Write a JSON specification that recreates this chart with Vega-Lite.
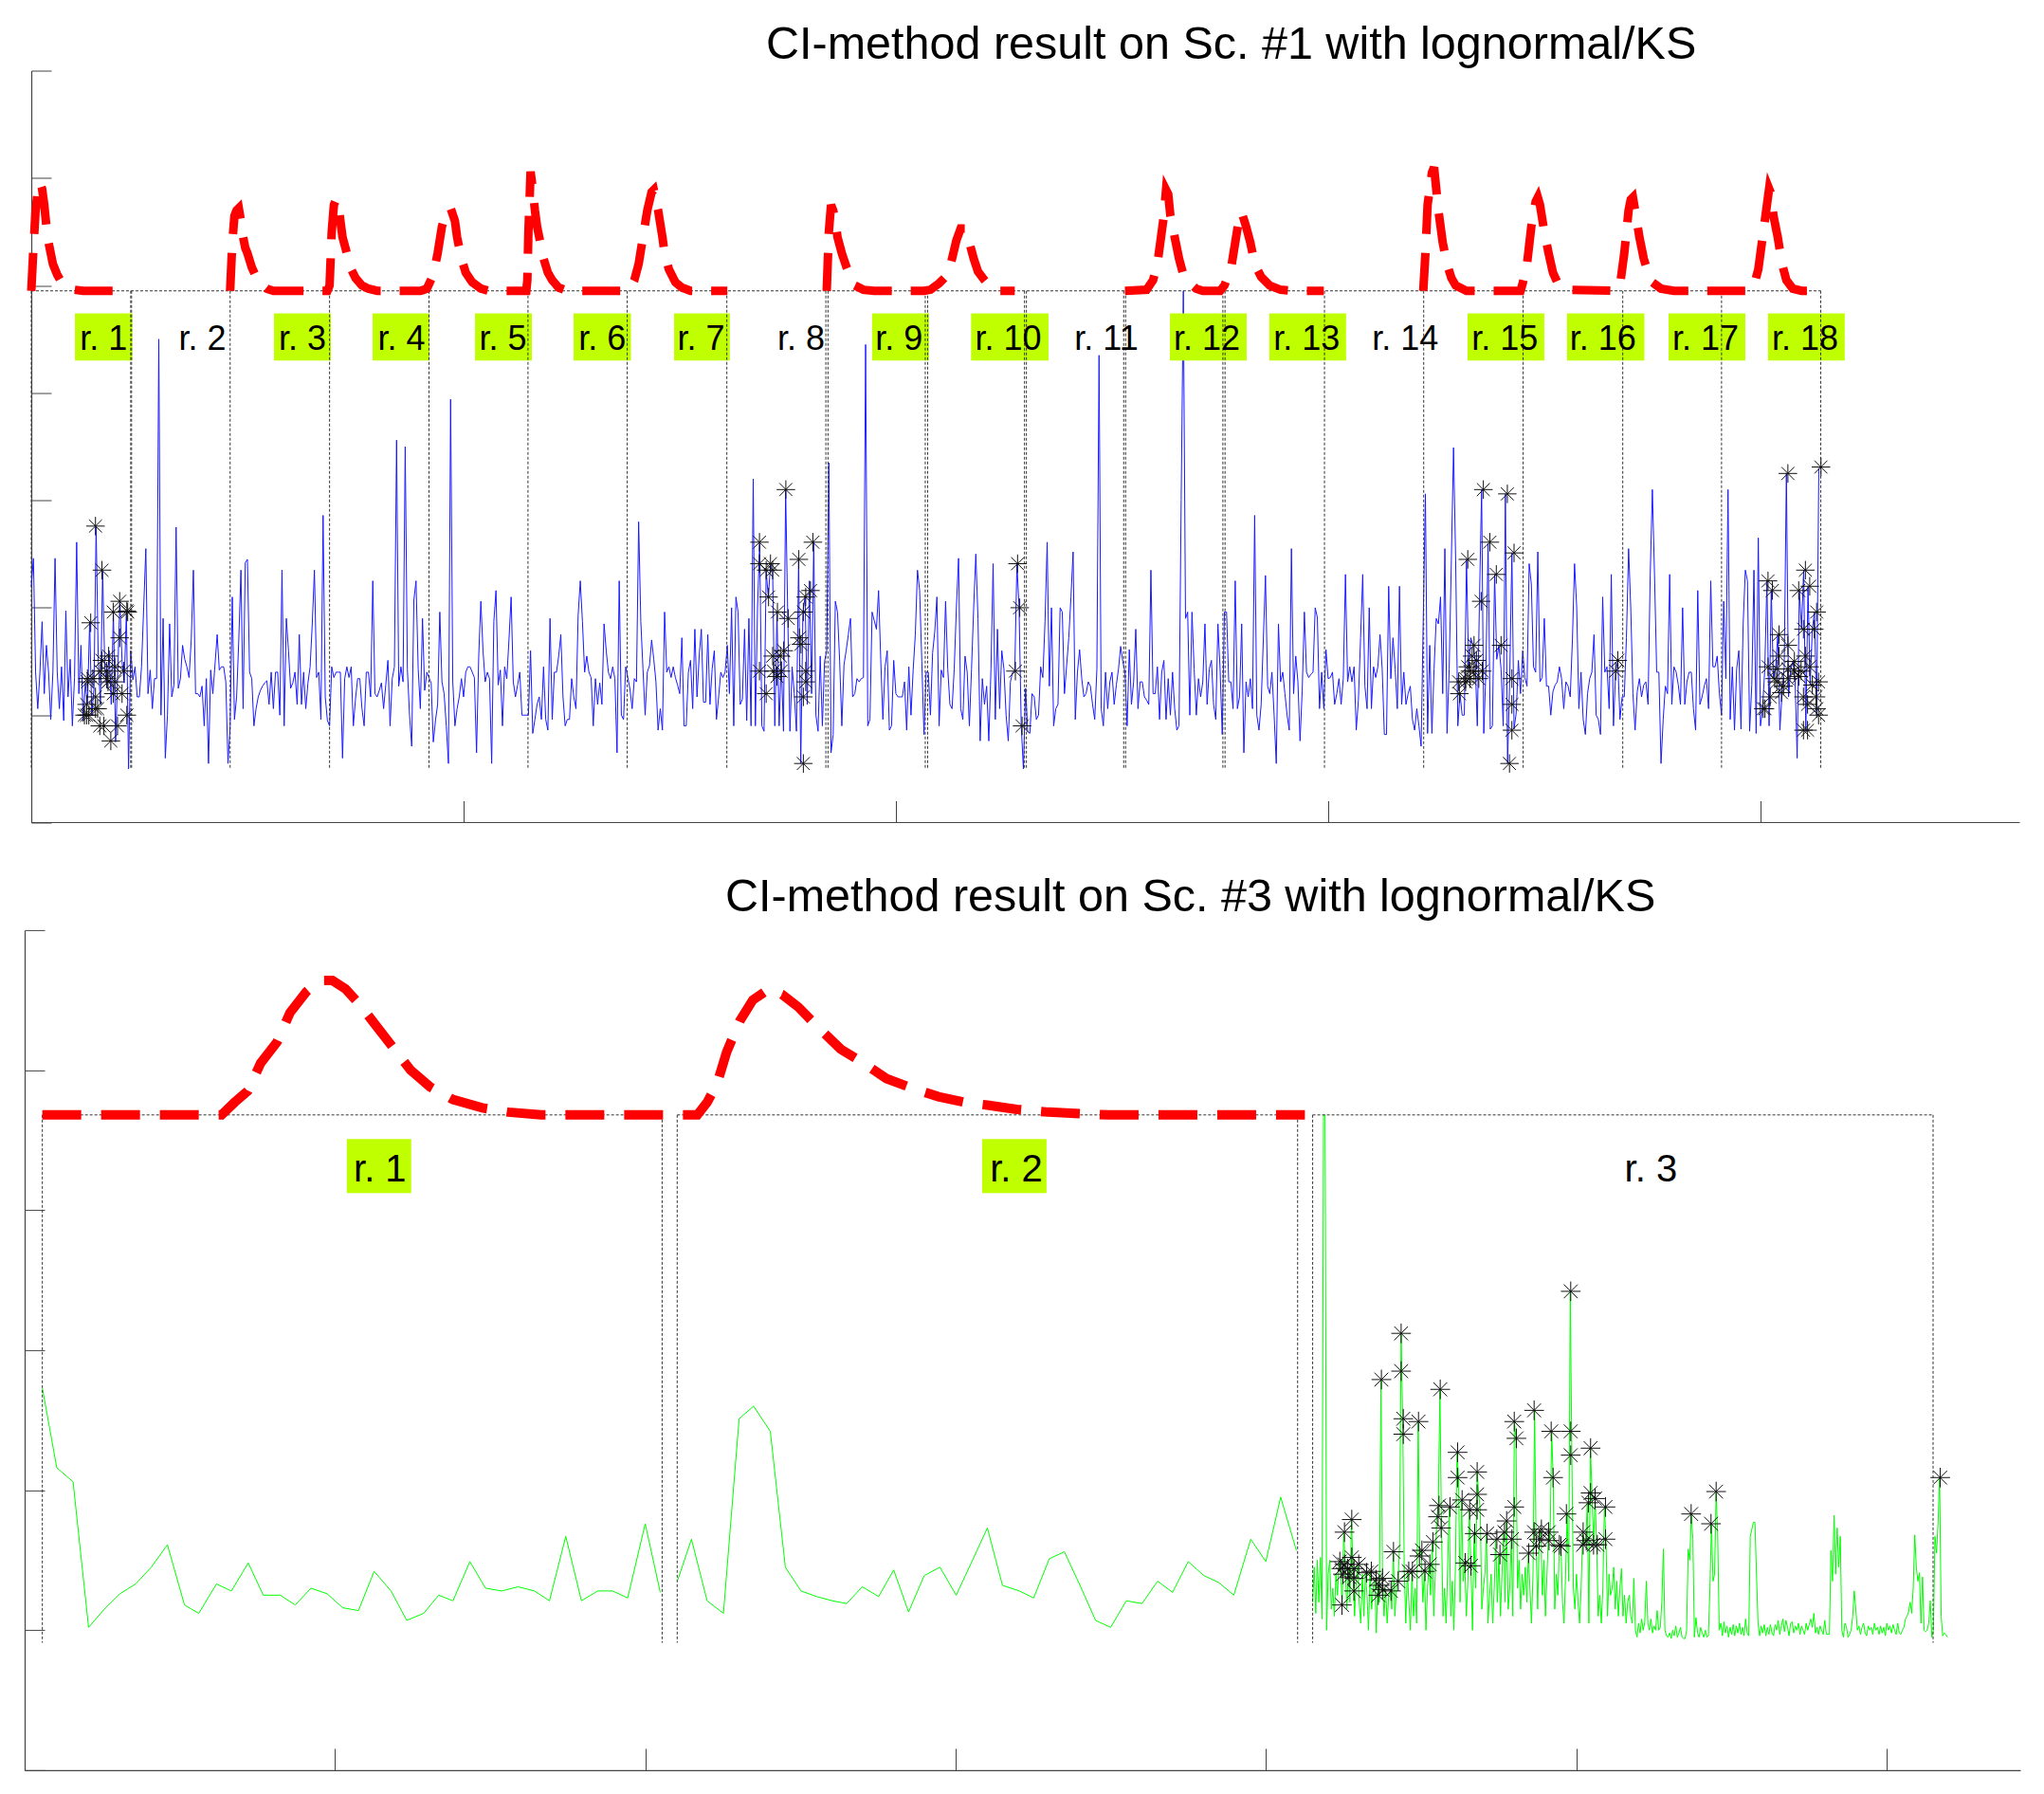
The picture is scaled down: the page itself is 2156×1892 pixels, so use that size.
{
  "$schema": "https://vega.github.io/schema/vega-lite/v6.json",
  "background": "white",
  "padding": {"left": 15, "top": 22.5, "right": 0, "bottom": 0},
  "config": {
    "view": {"stroke": null},
    "font": "Liberation Sans",
    "axis": {"grid": false, "labels": false, "title": null, "domainColor": "#444444", "tickColor": "#444444", "domainWidth": 1.2, "tickWidth": 1}
  },
  "datasets": {
    "blue": [
{"x":0,"y":2.2},{"x":1,"y":2.46},{"x":2,"y":1.4},{"x":3,"y":1.06},{"x":4,"y":1.4},{"x":5,"y":1.87},{"x":6,"y":1.2},{"x":7,"y":1.65},{"x":8,"y":1.4},{"x":9,"y":0.96},{"x":10,"y":1.4},{"x":11,"y":2.46},{"x":12,"y":1.4},{"x":13,"y":1.06},{"x":14,"y":1.45},{"x":15,"y":0.95},{"x":16,"y":1.97},{"x":17,"y":1.17},{"x":18,"y":1.52},{"x":19,"y":0.9},{"x":20,"y":1.35},{"x":21,"y":2.61},{"x":22,"y":1.2},{"x":23,"y":1.65},{"x":24,"y":0.95},{"x":25,"y":1.3},{"x":26,"y":1.1},{"x":27,"y":1.87},{"x":28,"y":1.0},{"x":29,"y":1.25},{"x":30,"y":2.75},{"x":31,"y":1.5},{"x":32,"y":1.1},{"x":33,"y":2.34},{"x":34,"y":1.45},{"x":35,"y":1.25},{"x":36,"y":1.6},{"x":37,"y":1.1},{"x":38,"y":1.96},{"x":39,"y":0.75},{"x":40,"y":1.4},{"x":41,"y":2.06},{"x":42,"y":1.5},{"x":43,"y":1.3},{"x":44,"y":1.96},{"x":45,"y":0.5},
{"x":46,"y":1.6},{"x":47,"y":1.33},{"x":48,"y":1.45},{"x":49,"y":1.17},{"x":50,"y":1.17},{"x":51,"y":1.45},{"x":52,"y":2.0},{"x":53,"y":2.55},{"x":54,"y":1.2},{"x":55,"y":1.42},{"x":56,"y":1.06},{"x":57,"y":1.34},{"x":58,"y":1.34},{"x":59,"y":4.5},{"x":60,"y":1.0},{"x":61,"y":1.9},{"x":62,"y":0.6},{"x":63,"y":1.0},{"x":64,"y":1.85},{"x":65,"y":1.17},{"x":66,"y":1.28},{"x":67,"y":2.75},{"x":68,"y":1.25},{"x":69,"y":1.34},{"x":70,"y":1.65},{"x":71,"y":1.52},{"x":72,"y":1.45},{"x":73,"y":1.35},{"x":74,"y":1.7},{"x":75,"y":2.35},{"x":76,"y":1.2},{"x":77,"y":1.2},{"x":78,"y":1.17},{"x":79,"y":1.27},{"x":80,"y":0.9},{"x":81,"y":1.34},{"x":82,"y":0.55},{"x":83,"y":1.42},{"x":84,"y":1.2},{"x":85,"y":1.47},{"x":86,"y":1.75},{"x":87,"y":1.42},{"x":88,"y":1.45},{"x":89,"y":1.45},{"x":90,"y":1.31},{"x":91,"y":0.55},
{"x":92,"y":0.9},{"x":93,"y":2.1},{"x":94,"y":0.96},{"x":95,"y":1.17},{"x":96,"y":1.7},{"x":97,"y":2.35},{"x":98,"y":1.06},{"x":99,"y":2.42},{"x":100,"y":2.45},{"x":101,"y":1.4},{"x":102,"y":1.34},{"x":103,"y":0.9},{"x":104,"y":1.06},{"x":105,"y":1.17},{"x":106,"y":1.23},{"x":107,"y":1.27},{"x":108,"y":1.3},{"x":109,"y":1.32},{"x":110,"y":1.1},{"x":111,"y":1.4},{"x":112,"y":1.06},{"x":113,"y":1.4},{"x":114,"y":1.4},{"x":115,"y":1.0},{"x":116,"y":2.35},{"x":117,"y":0.9},{"x":118,"y":1.9},{"x":119,"y":1.6},{"x":120,"y":1.25},{"x":121,"y":1.3},{"x":122,"y":1.4},{"x":123,"y":1.1},{"x":124,"y":1.75},{"x":125,"y":1.1},{"x":126,"y":1.4},{"x":127,"y":1.06},{"x":128,"y":1.3},{"x":129,"y":1.45},{"x":130,"y":1.85},{"x":131,"y":2.35},{"x":132,"y":1.35},{"x":133,"y":1.4},{"x":134,"y":0.96},{"x":135,"y":2.86},{"x":136,"y":1.17},{"x":137,"y":0.95},
{"x":138,"y":0.9},{"x":139,"y":1.45},{"x":140,"y":1.35},{"x":141,"y":1.4},{"x":142,"y":1.4},{"x":143,"y":1.4},{"x":144,"y":0.6},{"x":145,"y":1.34},{"x":146,"y":1.45},{"x":147,"y":1.35},{"x":148,"y":1.45},{"x":149,"y":0.9},{"x":150,"y":1.15},{"x":151,"y":1.34},{"x":152,"y":1.34},{"x":153,"y":1.06},{"x":154,"y":0.9},{"x":155,"y":1.4},{"x":156,"y":1.4},{"x":157,"y":1.17},{"x":158,"y":2.25},{"x":159,"y":1.2},{"x":160,"y":1.17},{"x":161,"y":1.23},{"x":162,"y":1.3},{"x":163,"y":1.06},{"x":164,"y":1.28},{"x":165,"y":1.51},{"x":166,"y":0.9},{"x":167,"y":1.34},{"x":168,"y":1.45},{"x":169,"y":3.56},{"x":170,"y":1.27},{"x":171,"y":1.45},{"x":172,"y":1.31},{"x":173,"y":3.5},{"x":174,"y":1.43},{"x":175,"y":1.0},{"x":176,"y":0.71},{"x":177,"y":2.07},{"x":178,"y":2.25},{"x":179,"y":1.43},{"x":180,"y":1.06},{"x":181,"y":1.9},{"x":182,"y":1.23},{"x":183,"y":1.4},
{"x":184,"y":1.35},{"x":185,"y":1.3},{"x":186,"y":0.75},{"x":187,"y":0.95},{"x":188,"y":1.1},{"x":189,"y":1.96},{"x":190,"y":1.31},{"x":191,"y":1.2},{"x":192,"y":0.9},{"x":193,"y":0.55},{"x":194,"y":3.94},{"x":195,"y":1.31},{"x":196,"y":0.9},{"x":197,"y":1.06},{"x":198,"y":1.17},{"x":199,"y":1.34},{"x":200,"y":1.17},{"x":201,"y":1.4},{"x":202,"y":1.45},{"x":203,"y":1.45},{"x":204,"y":1.4},{"x":205,"y":1.35},{"x":206,"y":0.65},{"x":207,"y":1.55},{"x":208,"y":2.06},{"x":209,"y":1.6},{"x":210,"y":1.31},{"x":211,"y":1.4},{"x":212,"y":1.34},{"x":213,"y":0.55},{"x":214,"y":1.87},{"x":215,"y":2.16},{"x":216,"y":1.28},{"x":217,"y":1.42},{"x":218,"y":0.9},{"x":219,"y":1.45},{"x":220,"y":1.34},{"x":221,"y":1.7},{"x":222,"y":2.1},{"x":223,"y":1.31},{"x":224,"y":1.17},{"x":225,"y":1.28},{"x":226,"y":1.4},{"x":227,"y":1.0},{"x":228,"y":1.0},{"x":229,"y":1.0},{"x":230,"y":1.0},
{"x":231,"y":1.6},{"x":232,"y":0.83},{"x":233,"y":0.96},{"x":234,"y":1.1},{"x":235,"y":1.17},{"x":236,"y":0.96},{"x":237,"y":1.45},{"x":238,"y":0.96},{"x":239,"y":0.86},{"x":240,"y":1.9},{"x":241,"y":0.96},{"x":242,"y":1.4},{"x":243,"y":1.4},{"x":244,"y":1.55},{"x":245,"y":1.75},{"x":246,"y":1.17},{"x":247,"y":0.9},{"x":248,"y":0.96},{"x":249,"y":0.96},{"x":250,"y":1.34},{"x":251,"y":1.17},{"x":252,"y":1.06},{"x":253,"y":1.93},{"x":254,"y":2.25},{"x":255,"y":1.87},{"x":256,"y":1.4},{"x":257,"y":1.55},{"x":258,"y":1.4},{"x":259,"y":1.35},{"x":260,"y":0.9},{"x":261,"y":1.34},{"x":262,"y":1.1},{"x":263,"y":1.3},{"x":264,"y":1.1},{"x":265,"y":1.85},{"x":266,"y":1.6},{"x":267,"y":1.4},{"x":268,"y":1.34},{"x":269,"y":1.45},{"x":270,"y":1.34},{"x":271,"y":0.65},{"x":272,"y":2.25},{"x":273,"y":1.0},{"x":274,"y":0.96},
{"x":275,"y":1.45},{"x":276,"y":1.35},{"x":277,"y":1.24},{"x":278,"y":1.06},{"x":279,"y":1.34},{"x":280,"y":1.31},{"x":281,"y":2.8},{"x":282,"y":1.87},{"x":283,"y":1.43},{"x":284,"y":1.0},{"x":285,"y":1.4},{"x":286,"y":1.46},{"x":287,"y":1.7},{"x":288,"y":1.52},{"x":289,"y":1.31},{"x":290,"y":0.86},{"x":291,"y":1.06},{"x":292,"y":0.86},{"x":293,"y":1.96},{"x":294,"y":1.4},{"x":295,"y":1.45},{"x":296,"y":1.35},{"x":297,"y":1.45},{"x":298,"y":1.35},{"x":299,"y":1.28},{"x":300,"y":1.2},{"x":301,"y":1.72},{"x":302,"y":0.9},{"x":303,"y":0.9},{"x":304,"y":1.4},{"x":305,"y":1.51},{"x":306,"y":1.06},{"x":307,"y":1.8},{"x":308,"y":1.17},{"x":309,"y":1.55},{"x":310,"y":1.8},{"x":311,"y":1.12},{"x":312,"y":1.12},{"x":313,"y":1.75},{"x":314,"y":1.1},{"x":315,"y":1.43},{"x":316,"y":1.6},{"x":317,"y":0.96},{"x":318,"y":1.17},{"x":319,"y":1.4},{"x":320,"y":1.35},{"x":321,"y":1.4},
{"x":322,"y":1.65},{"x":323,"y":1.2},{"x":324,"y":2.0},{"x":325,"y":0.9},{"x":326,"y":2.1},{"x":327,"y":1.96},{"x":328,"y":1.1},{"x":329,"y":1.15},{"x":330,"y":1.8},{"x":331,"y":0.95},{"x":332,"y":1.9},{"x":333,"y":0.9},{"x":334,"y":3.2},{"x":335,"y":0.9},{"x":336,"y":2.0},{"x":337,"y":2.61},{"x":338,"y":0.9},{"x":339,"y":0.85},{"x":340,"y":2.34},{"x":341,"y":2.1},{"x":342,"y":2.4},{"x":343,"y":2.34},{"x":344,"y":0.9},{"x":345,"y":1.96},{"x":346,"y":0.9},{"x":347,"y":1.5},{"x":348,"y":0.85},{"x":349,"y":3.1},{"x":350,"y":1.9},{"x":351,"y":0.85},{"x":352,"y":1.45},{"x":353,"y":1.2},{"x":354,"y":0.85},{"x":355,"y":2.46},{"x":356,"y":0.55},{"x":357,"y":1.96},{"x":358,"y":2.1},{"x":359,"y":1.1},{"x":360,"y":2.25},{"x":361,"y":1.2},{"x":362,"y":2.61},{"x":363,"y":1.0},{"x":364,"y":0.85},{"x":365,"y":1.55},{"x":366,"y":0.9},{"x":367,"y":1.5},
{"x":368,"y":1.6},{"x":369,"y":3.35},{"x":370,"y":0.65},{"x":371,"y":0.82},{"x":372,"y":2.06},{"x":373,"y":1.96},{"x":374,"y":1.5},{"x":375,"y":0.9},{"x":376,"y":1.47},{"x":377,"y":1.6},{"x":378,"y":1.75},{"x":379,"y":1.9},{"x":380,"y":1.17},{"x":381,"y":1.2},{"x":382,"y":1.34},{"x":383,"y":1.31},{"x":384,"y":1.34},{"x":385,"y":1.35},{"x":386,"y":4.45},{"x":387,"y":0.9},{"x":388,"y":0.96},{"x":389,"y":1.96},{"x":390,"y":1.88},{"x":391,"y":1.8},{"x":392,"y":2.16},{"x":393,"y":1.52},{"x":394,"y":0.96},{"x":395,"y":1.45},{"x":396,"y":1.6},{"x":397,"y":0.86},{"x":398,"y":0.9},{"x":399,"y":1.51},{"x":400,"y":1.2},{"x":401,"y":1.17},{"x":402,"y":1.17},{"x":403,"y":1.17},{"x":404,"y":1.31},{"x":405,"y":0.86},{"x":406,"y":1.45},{"x":407,"y":1.0},{"x":408,"y":1.42},{"x":409,"y":1.75},{"x":410,"y":2.35},{"x":411,"y":2.16},{"x":412,"y":1.5},{"x":413,"y":0.82},
{"x":414,"y":1.4},{"x":415,"y":1.4},{"x":416,"y":1.0},{"x":417,"y":1.58},{"x":418,"y":1.78},{"x":419,"y":2.1},{"x":420,"y":0.9},{"x":421,"y":1.42},{"x":422,"y":1.35},{"x":423,"y":2.06},{"x":424,"y":1.43},{"x":425,"y":1.1},{"x":426,"y":1.06},{"x":427,"y":1.43},{"x":428,"y":2.0},{"x":429,"y":2.46},{"x":430,"y":1.06},{"x":431,"y":0.96},{"x":432,"y":1.55},{"x":433,"y":1.4},{"x":434,"y":0.9},{"x":435,"y":1.43},{"x":436,"y":2.0},{"x":437,"y":2.5},{"x":438,"y":1.9},{"x":439,"y":0.76},{"x":440,"y":1.34},{"x":441,"y":1.1},{"x":442,"y":1.27},{"x":443,"y":0.76},{"x":444,"y":1.43},{"x":445,"y":2.41},{"x":446,"y":0.96},{"x":447,"y":1.8},{"x":448,"y":1.06},{"x":449,"y":1.6},{"x":450,"y":1.43},{"x":451,"y":1.0},{"x":452,"y":0.76},{"x":453,"y":1.31},{"x":454,"y":1.4},{"x":455,"y":1.4},{"x":456,"y":2.41},{"x":457,"y":2.0},{"x":458,"y":0.9},{"x":459,"y":0.5},
{"x":460,"y":1.25},{"x":461,"y":0.85},{"x":462,"y":0.83},{"x":463,"y":1.2},{"x":464,"y":1.17},{"x":465,"y":0.96},{"x":466,"y":1.0},{"x":467,"y":1.45},{"x":468,"y":1.35},{"x":469,"y":1.87},{"x":470,"y":2.61},{"x":471,"y":1.27},{"x":472,"y":2.0},{"x":473,"y":0.9},{"x":474,"y":1.06},{"x":475,"y":1.1},{"x":476,"y":2.0},{"x":477,"y":1.96},{"x":478,"y":1.2},{"x":479,"y":1.46},{"x":480,"y":1.72},{"x":481,"y":2.1},{"x":482,"y":2.52},{"x":483,"y":0.96},{"x":484,"y":1.4},{"x":485,"y":1.61},{"x":486,"y":1.34},{"x":487,"y":1.17},{"x":488,"y":1.2},{"x":489,"y":1.31},{"x":490,"y":1.27},{"x":491,"y":1.1},{"x":492,"y":0.96},{"x":493,"y":1.43},{"x":494,"y":4.35},{"x":495,"y":1.06},{"x":496,"y":0.9},{"x":497,"y":1.4},{"x":498,"y":1.06},{"x":499,"y":1.31},{"x":500,"y":1.4},{"x":501,"y":1.1},{"x":502,"y":1.28},{"x":503,"y":1.43},{"x":504,"y":1.64},{"x":505,"y":1.5},
{"x":506,"y":1.4},{"x":507,"y":0.9},{"x":508,"y":1.61},{"x":509,"y":1.1},{"x":510,"y":1.31},{"x":511,"y":1.8},{"x":512,"y":1.06},{"x":513,"y":1.31},{"x":514,"y":1.31},{"x":515,"y":1.17},{"x":516,"y":1.14},{"x":517,"y":1.1},{"x":518,"y":2.35},{"x":519,"y":1.2},{"x":520,"y":1.2},{"x":521,"y":1.45},{"x":522,"y":0.96},{"x":523,"y":1.4},{"x":524,"y":1.51},{"x":525,"y":0.96},{"x":526,"y":1.34},{"x":527,"y":1.0},{"x":528,"y":1.4},{"x":529,"y":1.06},{"x":530,"y":0.86},{"x":531,"y":0.9},{"x":532,"y":3.0},{"x":533,"y":4.95},{"x":534,"y":1.9},{"x":535,"y":1.96},{"x":536,"y":1.0},{"x":537,"y":1.96},{"x":538,"y":1.43},{"x":539,"y":1.0},{"x":540,"y":1.34},{"x":541,"y":1.17},{"x":542,"y":1.31},{"x":543,"y":1.85},{"x":544,"y":1.1},{"x":545,"y":1.43},{"x":546,"y":1.51},{"x":547,"y":1.1},{"x":548,"y":0.96},{"x":549,"y":1.85},{"x":550,"y":1.43},{"x":551,"y":0.82},
{"x":552,"y":1.96},{"x":553,"y":1.96},{"x":554,"y":1.31},{"x":555,"y":1.31},{"x":556,"y":1.06},{"x":557,"y":2.25},{"x":558,"y":1.06},{"x":559,"y":1.17},{"x":560,"y":1.85},{"x":561,"y":0.65},{"x":562,"y":1.31},{"x":563,"y":1.17},{"x":564,"y":1.34},{"x":565,"y":1.06},{"x":566,"y":2.86},{"x":567,"y":1.0},{"x":568,"y":0.86},{"x":569,"y":1.1},{"x":570,"y":1.7},{"x":571,"y":2.3},{"x":572,"y":1.27},{"x":573,"y":1.2},{"x":574,"y":1.4},{"x":575,"y":1.0},{"x":576,"y":0.55},{"x":577,"y":1.85},{"x":578,"y":1.31},{"x":579,"y":1.4},{"x":580,"y":1.2},{"x":581,"y":1.0},{"x":582,"y":0.86},{"x":583,"y":2.55},{"x":584,"y":1.2},{"x":585,"y":1.55},{"x":586,"y":1.31},{"x":587,"y":0.76},{"x":588,"y":1.23},{"x":589,"y":1.96},{"x":590,"y":1.4},{"x":591,"y":1.35},{"x":592,"y":1.38},{"x":593,"y":1.4},{"x":594,"y":2.0},{"x":595,"y":1.91},{"x":596,"y":1.06},{"x":597,"y":1.4},
{"x":598,"y":1.06},{"x":599,"y":1.61},{"x":600,"y":1.34},{"x":601,"y":1.35},{"x":602,"y":1.4},{"x":603,"y":1.1},{"x":604,"y":1.2},{"x":605,"y":1.34},{"x":606,"y":1.1},{"x":607,"y":1.34},{"x":608,"y":2.31},{"x":609,"y":1.31},{"x":610,"y":1.45},{"x":611,"y":1.31},{"x":612,"y":1.45},{"x":613,"y":0.86},{"x":614,"y":1.14},{"x":615,"y":1.72},{"x":616,"y":2.31},{"x":617,"y":1.27},{"x":618,"y":1.06},{"x":619,"y":2.0},{"x":620,"y":1.06},{"x":621,"y":1.45},{"x":622,"y":1.35},{"x":623,"y":1.45},{"x":624,"y":1.75},{"x":625,"y":1.43},{"x":626,"y":0.82},{"x":627,"y":0.82},{"x":628,"y":2.2},{"x":629,"y":1.34},{"x":630,"y":1.72},{"x":631,"y":1.43},{"x":632,"y":1.06},{"x":633,"y":2.2},{"x":634,"y":1.1},{"x":635,"y":1.4},{"x":636,"y":1.1},{"x":637,"y":1.2},{"x":638,"y":1.27},{"x":639,"y":0.96},{"x":640,"y":0.86},{"x":641,"y":1.06},{"x":642,"y":0.9},{"x":643,"y":0.71},
{"x":644,"y":1.9},{"x":645,"y":3.06},{"x":646,"y":0.83},{"x":647,"y":1.65},{"x":648,"y":0.83},{"x":649,"y":1.43},{"x":650,"y":1.9},{"x":651,"y":1.85},{"x":652,"y":2.1},{"x":653,"y":1.2},{"x":654,"y":2.55},{"x":655,"y":0.83},{"x":656,"y":1.43},{"x":657,"y":2.44},{"x":658,"y":3.49},{"x":659,"y":2.44},{"x":660,"y":0.9},{"x":661,"y":1.2},{"x":662,"y":1.0},{"x":663,"y":1.0},{"x":664,"y":2.45},{"x":665,"y":1.43},{"x":666,"y":1.72},{"x":667,"y":1.65},{"x":668,"y":1.51},{"x":669,"y":0.9},{"x":670,"y":2.06},{"x":671,"y":3.1},{"x":672,"y":0.83},{"x":673,"y":1.43},{"x":674,"y":2.6},{"x":675,"y":0.87},{"x":676,"y":0.9},{"x":677,"y":2.31},{"x":678,"y":1.52},{"x":679,"y":1.65},{"x":680,"y":1.43},{"x":681,"y":0.9},{"x":682,"y":3.06},{"x":683,"y":0.55},{"x":684,"y":1.34},{"x":685,"y":2.51},{"x":686,"y":0.87},{"x":687,"y":1.02},{"x":688,"y":1.51},{"x":689,"y":1.2},{"x":690,"y":1.6},
{"x":691,"y":1.35},{"x":692,"y":1.27},{"x":693,"y":2.41},{"x":694,"y":2.22},{"x":695,"y":1.45},{"x":696,"y":1.4},{"x":697,"y":2.52},{"x":698,"y":1.31},{"x":699,"y":1.35},{"x":700,"y":1.9},{"x":701,"y":1.27},{"x":702,"y":1.27},{"x":703,"y":1.0},{"x":704,"y":1.22},{"x":705,"y":1.28},{"x":706,"y":1.31},{"x":707,"y":1.45},{"x":708,"y":1.34},{"x":709,"y":1.06},{"x":710,"y":1.31},{"x":711,"y":1.27},{"x":712,"y":1.17},{"x":713,"y":1.7},{"x":714,"y":2.41},{"x":715,"y":2.0},{"x":716,"y":1.06},{"x":717,"y":1.4},{"x":718,"y":0.96},{"x":719,"y":0.82},{"x":720,"y":1.2},{"x":721,"y":1.34},{"x":722,"y":1.4},{"x":723,"y":1.75},{"x":724,"y":1.0},{"x":725,"y":0.96},{"x":726,"y":0.82},{"x":727,"y":2.1},{"x":728,"y":1.4},{"x":729,"y":1.45},{"x":730,"y":1.06},{"x":731,"y":2.31},{"x":732,"y":0.9},{"x":733,"y":1.4},{"x":734,"y":1.51},{"x":735,"y":0.96},{"x":736,"y":1.17},
{"x":737,"y":1.17},{"x":738,"y":1.72},{"x":739,"y":2.55},{"x":740,"y":2.0},{"x":741,"y":1.2},{"x":742,"y":0.86},{"x":743,"y":1.22},{"x":744,"y":1.34},{"x":745,"y":1.17},{"x":746,"y":1.28},{"x":747,"y":1.31},{"x":748,"y":1.1},{"x":749,"y":2.3},{"x":750,"y":3.1},{"x":751,"y":2.3},{"x":752,"y":1.4},{"x":753,"y":1.4},{"x":754,"y":0.55},{"x":755,"y":0.96},{"x":756,"y":1.27},{"x":757,"y":1.2},{"x":758,"y":2.31},{"x":759,"y":1.1},{"x":760,"y":1.45},{"x":761,"y":1.4},{"x":762,"y":1.28},{"x":763,"y":1.1},{"x":764,"y":2.0},{"x":765,"y":1.1},{"x":766,"y":1.31},{"x":767,"y":1.4},{"x":768,"y":1.4},{"x":769,"y":1.06},{"x":770,"y":0.86},{"x":771,"y":2.16},{"x":772,"y":1.1},{"x":773,"y":1.17},{"x":774,"y":1.27},{"x":775,"y":1.34},{"x":776,"y":1.06},{"x":777,"y":2.25},{"x":778,"y":1.45},{"x":779,"y":1.45},{"x":780,"y":1.55},{"x":781,"y":1.2},
{"x":782,"y":1.0},{"x":783,"y":2.06},{"x":784,"y":1.34},{"x":785,"y":3.1},{"x":786,"y":0.96},{"x":787,"y":1.45},{"x":788,"y":0.86},{"x":789,"y":1.43},{"x":790,"y":1.6},{"x":791,"y":0.87},{"x":792,"y":1.85},{"x":793,"y":2.35},{"x":794,"y":2.25},{"x":795,"y":0.85},{"x":796,"y":1.28},{"x":797,"y":2.35},{"x":798,"y":0.83},{"x":799,"y":2.65},{"x":800,"y":0.9},{"x":801,"y":1.06},{"x":802,"y":1.43},{"x":803,"y":2.25},{"x":804,"y":0.9},{"x":805,"y":2.16},{"x":806,"y":1.34},{"x":807,"y":1.43},{"x":808,"y":1.75},{"x":809,"y":0.86},{"x":810,"y":1.2},{"x":811,"y":1.45},{"x":812,"y":3.25},{"x":813,"y":1.17},{"x":814,"y":1.43},{"x":815,"y":1.5},{"x":816,"y":1.34},{"x":817,"y":0.6},{"x":818,"y":2.16},{"x":819,"y":1.8},{"x":820,"y":2.35},{"x":821,"y":0.85},{"x":822,"y":2.2},{"x":823,"y":1.28},{"x":824,"y":1.8},{"x":825,"y":1.96},{"x":826,"y":1.0},{"x":827,"y":3.3}
    ],
    "red1": [
{"x":0,"y":4.95,"seg":"a"},{"x":1,"y":5.35,"seg":"a"},{"x":2,"y":5.7,"seg":"a"},{"x":3,"y":5.88,"seg":"a"},{"x":4,"y":5.96,"seg":"a"},{"x":5,"y":5.9,"seg":"a"},{"x":6,"y":5.75,"seg":"a"},{"x":7,"y":5.55,"seg":"a"},{"x":8,"y":5.4,"seg":"a"},{"x":9,"y":5.3,"seg":"a"},{"x":10,"y":5.2,"seg":"a"},{"x":12,"y":5.1,"seg":"a"},{"x":14,"y":5.03,"seg":"a"},{"x":17,"y":4.98,"seg":"a"},{"x":20,"y":4.96,"seg":"a"},{"x":24,"y":4.95,"seg":"a"},{"x":46,"y":4.95,"seg":"a"},
{"x":92,"y":4.95,"seg":"b"},{"x":93,"y":5.4,"seg":"b"},{"x":94,"y":5.65,"seg":"b"},{"x":95,"y":5.7,"seg":"b"},{"x":96,"y":5.72,"seg":"b"},{"x":97,"y":5.6,"seg":"b"},{"x":98,"y":5.45,"seg":"b"},{"x":99,"y":5.35,"seg":"b"},{"x":100,"y":5.3,"seg":"b"},{"x":102,"y":5.17,"seg":"b"},{"x":104,"y":5.08,"seg":"b"},{"x":106,"y":5.02,"seg":"b"},{"x":109,"y":4.97,"seg":"b"},{"x":112,"y":4.95,"seg":"b"},{"x":137,"y":4.95,"seg":"b"},{"x":138,"y":5.0,"seg":"b"},{"x":139,"y":5.5,"seg":"b"},{"x":140,"y":5.75,"seg":"b"},{"x":141,"y":5.8,"seg":"b"},{"x":142,"y":5.78,"seg":"b"},{"x":143,"y":5.6,"seg":"b"},{"x":144,"y":5.45,"seg":"b"},{"x":146,"y":5.3,"seg":"b"},{"x":148,"y":5.15,"seg":"b"},{"x":150,"y":5.07,"seg":"b"},{"x":153,"y":5.0,"seg":"b"},{"x":156,"y":4.97,"seg":"b"},{"x":160,"y":4.95,"seg":"b"},{"x":180,"y":4.95,"seg":"b"},{"x":183,"y":4.97,"seg":"b"},{"x":186,"y":5.1,"seg":"b"},{"x":188,"y":5.3,"seg":"b"},{"x":190,"y":5.55,"seg":"b"},{"x":192,"y":5.68,"seg":"b"},{"x":194,"y":5.72,"seg":"b"},{"x":196,"y":5.6,"seg":"b"},{"x":197,"y":5.45,"seg":"b"},{"x":199,"y":5.25,"seg":"b"},{"x":201,"y":5.12,"seg":"b"},{"x":204,"y":5.03,"seg":"b"},{"x":208,"y":4.97,"seg":"b"},{"x":212,"y":4.95,"seg":"b"},{"x":229,"y":4.95,"seg":"b"},{"x":229.5,"y":5.05,"seg":"b"},{"x":230,"y":5.5,"seg":"b"},{"x":231,"y":6.06,"seg":"b"},{"x":232,"y":5.9,"seg":"b"},{"x":233,"y":5.7,"seg":"b"},{"x":234,"y":5.55,"seg":"b"},{"x":235,"y":5.45,"seg":"b"},{"x":237,"y":5.25,"seg":"b"},{"x":239,"y":5.12,"seg":"b"},{"x":241,"y":5.05,"seg":"b"},{"x":244,"y":4.98,"seg":"b"},{"x":248,"y":4.95,"seg":"b"},{"x":275,"y":4.95,"seg":"b"},{"x":277,"y":4.97,"seg":"b"},{"x":279,"y":5.05,"seg":"b"},{"x":281,"y":5.2,"seg":"b"},{"x":283,"y":5.45,"seg":"b"},{"x":285,"y":5.7,"seg":"b"},{"x":287,"y":5.87,"seg":"b"},{"x":288,"y":5.89,"seg":"b"},{"x":290,"y":5.7,"seg":"b"},{"x":292,"y":5.45,"seg":"b"},{"x":293,"y":5.3,"seg":"b"},{"x":295,"y":5.15,"seg":"b"},{"x":298,"y":5.03,"seg":"b"},{"x":301,"y":4.98,"seg":"b"},{"x":305,"y":4.95,"seg":"b"},{"x":322,"y":4.95,"seg":"b"},
{"x":368,"y":4.95,"seg":"c"},{"x":369,"y":5.5,"seg":"c"},{"x":370,"y":5.75,"seg":"c"},{"x":371,"y":5.7,"seg":"c"},{"x":372,"y":5.6,"seg":"c"},{"x":373,"y":5.45,"seg":"c"},{"x":375,"y":5.3,"seg":"c"},{"x":377,"y":5.18,"seg":"c"},{"x":379,"y":5.08,"seg":"c"},{"x":381,"y":5.0,"seg":"c"},{"x":385,"y":4.96,"seg":"c"},{"x":390,"y":4.95,"seg":"c"},{"x":413,"y":4.95,"seg":"c"},{"x":416,"y":4.96,"seg":"c"},{"x":420,"y":5.02,"seg":"c"},{"x":424,"y":5.1,"seg":"c"},{"x":426,"y":5.25,"seg":"c"},{"x":428,"y":5.42,"seg":"c"},{"x":430,"y":5.53,"seg":"c"},{"x":432,"y":5.53,"seg":"c"},{"x":434,"y":5.4,"seg":"c"},{"x":436,"y":5.25,"seg":"c"},{"x":438,"y":5.13,"seg":"c"},{"x":441,"y":5.05,"seg":"c"},{"x":444,"y":4.98,"seg":"c"},{"x":448,"y":4.95,"seg":"c"},{"x":455,"y":4.95,"seg":"c"},
{"x":506,"y":4.95,"seg":"d"},{"x":516,"y":4.96,"seg":"d"},{"x":519,"y":5.05,"seg":"d"},{"x":521,"y":5.2,"seg":"d"},{"x":523,"y":5.5,"seg":"d"},{"x":524,"y":5.65,"seg":"d"},{"x":525,"y":5.89,"seg":"d"},{"x":526,"y":5.85,"seg":"d"},{"x":527,"y":5.65,"seg":"d"},{"x":529,"y":5.45,"seg":"d"},{"x":531,"y":5.25,"seg":"d"},{"x":533,"y":5.1,"seg":"d"},{"x":536,"y":5.02,"seg":"d"},{"x":539,"y":4.97,"seg":"d"},{"x":542,"y":4.95,"seg":"d"},{"x":550,"y":4.95,"seg":"d"},{"x":552,"y":5.0,"seg":"d"},{"x":555,"y":5.15,"seg":"d"},{"x":557,"y":5.4,"seg":"d"},{"x":559,"y":5.65,"seg":"d"},{"x":560,"y":5.68,"seg":"d"},{"x":562,"y":5.55,"seg":"d"},{"x":564,"y":5.4,"seg":"d"},{"x":566,"y":5.2,"seg":"d"},{"x":569,"y":5.08,"seg":"d"},{"x":573,"y":5.0,"seg":"d"},{"x":578,"y":4.96,"seg":"d"},{"x":585,"y":4.95,"seg":"d"},{"x":598,"y":4.95,"seg":"d"},
{"x":644,"y":4.95,"seg":"e"},{"x":645,"y":5.3,"seg":"e"},{"x":646,"y":5.75,"seg":"e"},{"x":648,"y":6.05,"seg":"e"},{"x":649,"y":6.1,"seg":"e"},{"x":650,"y":5.9,"seg":"e"},{"x":651,"y":5.7,"seg":"e"},{"x":653,"y":5.4,"seg":"e"},{"x":655,"y":5.2,"seg":"e"},{"x":657,"y":5.07,"seg":"e"},{"x":659,"y":5.0,"seg":"e"},{"x":664,"y":4.95,"seg":"e"},{"x":689,"y":4.95,"seg":"e"},{"x":690,"y":5.02,"seg":"e"},{"x":692,"y":5.2,"seg":"e"},{"x":694,"y":5.55,"seg":"e"},{"x":696,"y":5.78,"seg":"e"},{"x":697,"y":5.82,"seg":"e"},{"x":698,"y":5.75,"seg":"e"},{"x":700,"y":5.5,"seg":"e"},{"x":702,"y":5.3,"seg":"e"},{"x":704,"y":5.12,"seg":"e"},{"x":706,"y":5.03,"seg":"e"},{"x":710,"y":4.96,"seg":"e"},{"x":733,"y":4.95,"seg":"e"},{"x":735,"y":5.0,"seg":"e"},{"x":737,"y":5.3,"seg":"e"},{"x":739,"y":5.7,"seg":"e"},{"x":740,"y":5.8,"seg":"e"},{"x":741,"y":5.82,"seg":"e"},{"x":742,"y":5.7,"seg":"e"},{"x":744,"y":5.45,"seg":"e"},{"x":746,"y":5.25,"seg":"e"},{"x":748,"y":5.12,"seg":"e"},{"x":750,"y":5.03,"seg":"e"},{"x":754,"y":4.97,"seg":"e"},{"x":760,"y":4.95,"seg":"e"},{"x":795,"y":4.95,"seg":"e"},{"x":797,"y":5.0,"seg":"e"},{"x":799,"y":5.15,"seg":"e"},{"x":801,"y":5.45,"seg":"e"},{"x":803,"y":5.75,"seg":"e"},{"x":804,"y":5.9,"seg":"e"},{"x":805,"y":5.85,"seg":"e"},{"x":806,"y":5.65,"seg":"e"},{"x":808,"y":5.45,"seg":"e"},{"x":810,"y":5.2,"seg":"e"},{"x":812,"y":5.05,"seg":"e"},{"x":815,"y":4.97,"seg":"e"},{"x":819,"y":4.95,"seg":"e"},{"x":828,"y":4.95,"seg":"e"}
    ],
    "stars1": [
{"x":29.7,"y":2.76},{"x":32.7,"y":2.35},{"x":27.5,"y":1.86},{"x":40.9,"y":2.06},{"x":37.9,"y":1.96},{"x":44.6,"y":1.96},{"x":44.2,"y":1.97},{"x":40.9,"y":1.72},{"x":35.8,"y":1.55},{"x":32.7,"y":1.51},{"x":38.7,"y":1.45},{"x":32,"y":1.41},{"x":34.8,"y":1.41},{"x":42.8,"y":1.41},{"x":28.5,"y":1.34},{"x":26,"y":1.34},{"x":26,"y":1.31},{"x":35,"y":1.34},{"x":38.7,"y":1.31},{"x":35.5,"y":1.31},{"x":42,"y":1.2},{"x":37.9,"y":1.2},{"x":29.7,"y":1.17},{"x":25.6,"y":1.1},{"x":29.7,"y":1.06},{"x":30.7,"y":1.06},{"x":25.6,"y":1},{"x":26.6,"y":1},{"x":44.2,"y":1},{"x":24.6,"y":1},{"x":31.7,"y":0.9},{"x":33.6,"y":0.9},{"x":39.9,"y":0.9},{"x":36.8,"y":0.76},
{"x":349.1,"y":3.1},{"x":336.9,"y":2.61},{"x":361.6,"y":2.61},{"x":355.1,"y":2.45},{"x":336.9,"y":2.41},{"x":342,"y":2.41},{"x":340,"y":2.35},{"x":343,"y":2.35},{"x":360.5,"y":2.16},{"x":341.1,"y":2.1},{"x":358.3,"y":2.1},{"x":345.2,"y":1.96},{"x":357.2,"y":1.96},{"x":350.2,"y":1.9},{"x":355.4,"y":1.72},{"x":356.1,"y":1.66},{"x":348.1,"y":1.6},{"x":343,"y":1.55},{"x":346.6,"y":1.55},{"x":336.9,"y":1.41},{"x":343.4,"y":1.41},{"x":346.9,"y":1.41},{"x":358.3,"y":1.41},{"x":345,"y":1.36},{"x":358.3,"y":1.31},{"x":340,"y":1.2},{"x":357.2,"y":1.17},{"x":357.2,"y":0.55},
{"x":456.3,"y":2.41},{"x":457.3,"y":2.0},{"x":455.3,"y":1.41},{"x":458.4,"y":0.9},
{"x":671.8,"y":3.1},{"x":682.9,"y":3.06},{"x":674.8,"y":2.61},{"x":686,"y":2.51},{"x":664.6,"y":2.45},{"x":677.8,"y":2.31},{"x":670.8,"y":2.06},{"x":667.5,"y":1.65},{"x":680,"y":1.65},{"x":666.6,"y":1.55},{"x":668.6,"y":1.51},{"x":664.6,"y":1.45},{"x":665.6,"y":1.41},{"x":671.3,"y":1.41},{"x":667.5,"y":1.41},{"x":663.6,"y":1.34},{"x":665.6,"y":1.34},{"x":669.7,"y":1.34},{"x":660.4,"y":1.31},{"x":663.6,"y":1.31},{"x":685,"y":1.34},{"x":660.7,"y":1.2},{"x":685,"y":1.1},{"x":685,"y":0.86},{"x":683.9,"y":0.55},
{"x":734,"y":1.51},{"x":733,"y":1.41},
{"x":812.7,"y":3.25},{"x":828,"y":3.31},{"x":820.8,"y":2.35},{"x":803.5,"y":2.25},{"x":805.5,"y":2.16},{"x":817.7,"y":2.16},{"x":822.8,"y":2.2},{"x":826,"y":1.96},{"x":819.9,"y":1.8},{"x":824.9,"y":1.8},{"x":808.6,"y":1.75},{"x":812.7,"y":1.65},{"x":808.6,"y":1.55},{"x":815.7,"y":1.5},{"x":820.8,"y":1.55},{"x":803.5,"y":1.45},{"x":807.6,"y":1.43},{"x":812.7,"y":1.43},{"x":822.8,"y":1.45},{"x":815.7,"y":1.41},{"x":818.8,"y":1.41},{"x":806.6,"y":1.34},{"x":812.7,"y":1.34},{"x":807.6,"y":1.31},{"x":817.8,"y":1.36},{"x":824,"y":1.28},{"x":826.9,"y":1.31},{"x":810.7,"y":1.27},{"x":809.7,"y":1.21},{"x":804.5,"y":1.17},{"x":819.9,"y":1.17},{"x":825.7,"y":1.17},{"x":821.8,"y":1.1},{"x":826,"y":1.06},{"x":801.3,"y":1.06},{"x":802.1,"y":1.06},{"x":826.9,"y":1.0},{"x":819.9,"y":0.86},{"x":821.8,"y":0.86}
    ],
    "walls1": [
{"x":0,"y":4.95,"y2":0.5},{"x":46,"y":4.95,"y2":0.5},{"x":46.4,"y":4.95,"y2":0.5},{"x":92,"y":4.95,"y2":0.5},{"x":138,"y":4.95,"y2":0.5},{"x":184,"y":4.95,"y2":0.5},{"x":229.8,"y":4.95,"y2":0.5},{"x":275.7,"y":4.95,"y2":0.5},{"x":321.8,"y":4.95,"y2":0.5},{"x":367.6,"y":4.95,"y2":0.5},{"x":368.6,"y":4.95,"y2":0.5},{"x":413.6,"y":4.95,"y2":0.5},{"x":414.7,"y":4.95,"y2":0.5},{"x":459.5,"y":4.95,"y2":0.5},{"x":460.4,"y":4.95,"y2":0.5},{"x":505.4,"y":4.95,"y2":0.5},{"x":506.3,"y":4.95,"y2":0.5},{"x":551.3,"y":4.95,"y2":0.5},{"x":552.3,"y":4.95,"y2":0.5},{"x":598.3,"y":4.95,"y2":0.5},{"x":644.2,"y":4.95,"y2":0.5},{"x":690.2,"y":4.95,"y2":0.5},{"x":736.3,"y":4.95,"y2":0.5},{"x":782,"y":4.95,"y2":0.5},{"x":827.9,"y":4.95,"y2":0.5}
    ],
    "tops1": [{"x":0,"x2":827.9,"y":4.95}],
    "base1": [{"x":0,"x2":920,"y":0}],
    "hits1": [
{"x":20.2,"x2":46.8,"y":4.74,"y2":4.3},{"x":112.3,"x2":138.6,"y":4.74,"y2":4.3},{"x":157.9,"x2":184.2,"y":4.74,"y2":4.3},{"x":205.3,"x2":231.6,"y":4.74,"y2":4.3},{"x":250.9,"x2":277.4,"y":4.74,"y2":4.3},{"x":297.4,"x2":323.2,"y":4.74,"y2":4.3},{"x":389,"x2":415.4,"y":4.74,"y2":4.3},{"x":434.8,"x2":470.6,"y":4.74,"y2":4.3},{"x":526.8,"x2":562.3,"y":4.74,"y2":4.3},{"x":572.8,"x2":608.3,"y":4.74,"y2":4.3},{"x":664.5,"x2":700,"y":4.74,"y2":4.3},{"x":710.5,"x2":746.3,"y":4.74,"y2":4.3},{"x":757.5,"x2":793,"y":4.74,"y2":4.3},{"x":803.5,"x2":839,"y":4.74,"y2":4.3}
    ],
    "labels1": [
{"x":22.5,"y":4.5,"label":"r. 1"},{"x":68.2,"y":4.5,"label":"r. 2"},{"x":114.5,"y":4.5,"label":"r. 3"},{"x":160.3,"y":4.5,"label":"r. 4"},{"x":207.2,"y":4.5,"label":"r. 5"},{"x":253.2,"y":4.5,"label":"r. 6"},{"x":298.9,"y":4.5,"label":"r. 7"},{"x":345.2,"y":4.5,"label":"r. 8"},{"x":390.5,"y":4.5,"label":"r. 9"},{"x":436.6,"y":4.5,"label":"r. 10"},{"x":482.6,"y":4.5,"label":"r. 11"},{"x":528.5,"y":4.5,"label":"r. 12"},{"x":574.7,"y":4.5,"label":"r. 13"},{"x":620.3,"y":4.5,"label":"r. 14"},{"x":666.4,"y":4.5,"label":"r. 15"},{"x":711.8,"y":4.5,"label":"r. 16"},{"x":759.2,"y":4.5,"label":"r. 17"},{"x":805.3,"y":4.5,"label":"r. 18"}
    ],
    "green": [
{"x":11.4,"y":2.73,"seg":"a"},{"x":20.7,"y":2.16,"seg":"a"},{"x":31.2,"y":2.06,"seg":"a"},{"x":41.2,"y":1.02,"seg":"a"},{"x":51.3,"y":1.15,"seg":"a"},{"x":61.4,"y":1.26,"seg":"a"},{"x":71.5,"y":1.33,"seg":"a"},{"x":81.6,"y":1.45,"seg":"a"},{"x":92,"y":1.61,"seg":"a"},{"x":103,"y":1.18,"seg":"a"},{"x":112.2,"y":1.12,"seg":"a"},{"x":123.6,"y":1.33,"seg":"a"},{"x":133.2,"y":1.28,"seg":"a"},{"x":144.1,"y":1.48,"seg":"a"},{"x":153.8,"y":1.25,"seg":"a"},{"x":164.7,"y":1.25,"seg":"a"},{"x":174.4,"y":1.18,"seg":"a"},{"x":184.5,"y":1.3,"seg":"a"},{"x":194.9,"y":1.26,"seg":"a"},{"x":205,"y":1.16,"seg":"a"},{"x":215.1,"y":1.14,"seg":"a"},{"x":225.2,"y":1.42,"seg":"a"},{"x":236.1,"y":1.28,"seg":"a"},{"x":246.2,"y":1.07,"seg":"a"},{"x":257.1,"y":1.12,"seg":"a"},{"x":266.8,"y":1.25,"seg":"a"},{"x":276,"y":1.21,"seg":"a"},{"x":286.9,"y":1.49,"seg":"a"},{"x":297,"y":1.3,"seg":"a"},{"x":307.5,"y":1.28,"seg":"a"},{"x":318,"y":1.31,"seg":"a"},{"x":328.5,"y":1.28,"seg":"a"},{"x":338.2,"y":1.21,"seg":"a"},{"x":348.7,"y":1.67,"seg":"a"},{"x":358.8,"y":1.21,"seg":"a"},{"x":369.3,"y":1.28,"seg":"a"},{"x":378.9,"y":1.28,"seg":"a"},{"x":388.6,"y":1.23,"seg":"a"},{"x":399.9,"y":1.76,"seg":"a"},{"x":409.6,"y":1.27,"seg":"a"},
{"x":420.9,"y":1.36,"seg":"b"},{"x":429.7,"y":1.65,"seg":"b"},{"x":439.8,"y":1.21,"seg":"b"},{"x":450.3,"y":1.12,"seg":"b"},{"x":460.4,"y":2.51,"seg":"b"},{"x":469.7,"y":2.6,"seg":"b"},{"x":480.5,"y":2.42,"seg":"b"},{"x":490.2,"y":1.45,"seg":"b"},{"x":500.3,"y":1.28,"seg":"b"},{"x":510.4,"y":1.24,"seg":"b"},{"x":520.5,"y":1.21,"seg":"b"},{"x":529.7,"y":1.19,"seg":"b"},{"x":539.8,"y":1.31,"seg":"b"},{"x":550.3,"y":1.24,"seg":"b"},{"x":560,"y":1.43,"seg":"b"},{"x":569.6,"y":1.13,"seg":"b"},{"x":579.7,"y":1.39,"seg":"b"},{"x":589.8,"y":1.45,"seg":"b"},{"x":600.3,"y":1.25,"seg":"b"},{"x":610.4,"y":1.49,"seg":"b"},{"x":620.4,"y":1.73,"seg":"b"},{"x":630.1,"y":1.32,"seg":"b"},{"x":641,"y":1.28,"seg":"b"},{"x":650.2,"y":1.23,"seg":"b"},{"x":660.3,"y":1.51,"seg":"b"},{"x":670,"y":1.56,"seg":"b"},{"x":680.5,"y":1.31,"seg":"b"},{"x":690.1,"y":1.07,"seg":"b"},{"x":699.8,"y":1.02,"seg":"b"},{"x":709.9,"y":1.21,"seg":"b"},{"x":720,"y":1.19,"seg":"b"},{"x":730.1,"y":1.35,"seg":"b"},{"x":739.7,"y":1.27,"seg":"b"},{"x":749.8,"y":1.49,"seg":"b"},{"x":759.9,"y":1.39,"seg":"b"},{"x":769.5,"y":1.34,"seg":"b"},{"x":779.2,"y":1.25,"seg":"b"},{"x":790.1,"y":1.65,"seg":"b"},{"x":799.8,"y":1.49,"seg":"b"},{"x":809.4,"y":1.95,"seg":"b"},{"x":819.5,"y":1.57,"seg":"b"},
{"x":830,"y":1.2,"seg":"c"},{"x":831,"y":1.45,"seg":"c"},{"x":832,"y":1.12,"seg":"c"},{"x":833,"y":1.5,"seg":"c"},{"x":834,"y":1.2,"seg":"c"},{"x":835,"y":1.52,"seg":"c"},{"x":836,"y":1.08,"seg":"c"},{"x":837,"y":4.68,"seg":"c"},{"x":838,"y":4.68,"seg":"c"},{"x":839,"y":1.0,"seg":"c"},{"x":840,"y":1.4,"seg":"c"},{"x":841,"y":1.5,"seg":"c"},{"x":842,"y":1.15,"seg":"c"},{"x":843,"y":1.3,"seg":"c"},{"x":844,"y":1.1,"seg":"c"},{"x":845,"y":1.4,"seg":"c"},{"x":846,"y":1.25,"seg":"c"},{"x":847,"y":1.49,"seg":"c"},{"x":848,"y":1.44,"seg":"c"},{"x":849,"y":1.18,"seg":"c"},{"x":850,"y":1.7,"seg":"c"},{"x":851,"y":1.47,"seg":"c"},{"x":852,"y":1.15,"seg":"c"},{"x":853,"y":1.44,"seg":"c"},{"x":854,"y":1.2,"seg":"c"},{"x":855,"y":1.79,"seg":"c"},{"x":856,"y":1.44,"seg":"c"},{"x":857,"y":1.1,"seg":"c"},{"x":858,"y":1.35,"seg":"c"},{"x":859,"y":1.47,"seg":"c"},{"x":860,"y":1.2,"seg":"c"},{"x":861,"y":1.05,"seg":"c"},{"x":862,"y":1.4,"seg":"c"},{"x":863,"y":1.1,"seg":"c"},{"x":864,"y":1.41,"seg":"c"},{"x":865,"y":1.25,"seg":"c"},{"x":866,"y":1.0,"seg":"c"},{"x":867,"y":1.42,"seg":"c"},{"x":868,"y":1.15,"seg":"c"},{"x":869,"y":1.3,"seg":"c"},{"x":870,"y":1.36,"seg":"c"},{"x":871,"y":0.98,"seg":"c"},{"x":872,"y":1.32,"seg":"c"},{"x":873,"y":1.2,"seg":"c"},{"x":874,"y":2.79,"seg":"c"},{"x":875,"y":1.37,"seg":"c"},{"x":876,"y":1.1,"seg":"c"},{"x":877,"y":1.3,"seg":"c"},{"x":878,"y":1.05,"seg":"c"},{"x":879,"y":1.25,"seg":"c"},{"x":880,"y":1.28,"seg":"c"},{"x":881,"y":1.15,"seg":"c"},{"x":882,"y":1.56,"seg":"c"},{"x":883,"y":1.1,"seg":"c"},{"x":884,"y":1.3,"seg":"c"},{"x":885,"y":1.35,"seg":"c"},{"x":886,"y":1.6,"seg":"c"},{"x":887,"y":3.12,"seg":"c"},{"x":888,"y":2.51,"seg":"c"},{"x":889,"y":1.45,"seg":"c"},{"x":890,"y":1.05,"seg":"c"},{"x":891,"y":1.42,"seg":"c"},{"x":892,"y":1.2,"seg":"c"},{"x":893,"y":1.0,"seg":"c"},{"x":894,"y":1.42,"seg":"c"},{"x":895,"y":1.1,"seg":"c"},{"x":896,"y":1.3,"seg":"c"},{"x":897,"y":1.05,"seg":"c"},{"x":898,"y":2.49,"seg":"c"},{"x":899,"y":1.53,"seg":"c"},{"x":900,"y":1.57,"seg":"c"},{"x":901,"y":1.2,"seg":"c"},{"x":902,"y":1.42,"seg":"c"},{"x":903,"y":1.0,"seg":"c"},{"x":904,"y":1.3,"seg":"c"},{"x":905,"y":1.47,"seg":"c"},{"x":906,"y":1.25,"seg":"c"},{"x":907,"y":1.63,"seg":"c"},{"x":908,"y":1.1,"seg":"c"},{"x":909,"y":1.4,"seg":"c"},{"x":910,"y":1.81,"seg":"c"},{"x":911,"y":1.89,"seg":"c"},{"x":912,"y":2.72,"seg":"c"},{"x":913,"y":1.73,"seg":"c"},{"x":914,"y":1.1,"seg":"c"},{"x":915,"y":1.3,"seg":"c"},{"x":916,"y":1.05,"seg":"c"},{"x":917,"y":1.45,"seg":"c"},{"x":918,"y":1.88,"seg":"c"},{"x":919,"y":1.1,"seg":"c"},{"x":920,"y":1.35,"seg":"c"},{"x":921,"y":1.0,"seg":"c"},{"x":922,"y":1.45,"seg":"c"},{"x":923,"y":2.27,"seg":"c"},{"x":924,"y":2.09,"seg":"c"},{"x":925,"y":1.2,"seg":"c"},{"x":926,"y":1.93,"seg":"c"},{"x":927,"y":1.35,"seg":"c"},{"x":928,"y":1.48,"seg":"c"},{"x":929,"y":1.1,"seg":"c"},{"x":930,"y":1.35,"seg":"c"},{"x":931,"y":1.86,"seg":"c"},{"x":932,"y":1.46,"seg":"c"},{"x":933,"y":1.0,"seg":"c"},{"x":934,"y":1.69,"seg":"c"},{"x":935,"y":1.3,"seg":"c"},{"x":936,"y":2.13,"seg":"c"},{"x":937,"y":1.97,"seg":"c"},{"x":938,"y":1.86,"seg":"c"},{"x":939,"y":1.15,"seg":"c"},{"x":940,"y":1.3,"seg":"c"},{"x":941,"y":1.4,"seg":"c"},{"x":942,"y":1.69,"seg":"c"},{"x":943,"y":1.05,"seg":"c"},{"x":944,"y":1.25,"seg":"c"},{"x":945,"y":1.4,"seg":"c"},{"x":946,"y":1.05,"seg":"c"},{"x":947,"y":1.3,"seg":"c"},{"x":948,"y":1.65,"seg":"c"},{"x":949,"y":1.2,"seg":"c"},{"x":950,"y":1.54,"seg":"c"},{"x":951,"y":1.1,"seg":"c"},{"x":952,"y":1.4,"seg":"c"},{"x":953,"y":1.7,"seg":"c"},{"x":954,"y":1.2,"seg":"c"},{"x":955,"y":1.78,"seg":"c"},{"x":956,"y":1.15,"seg":"c"},{"x":957,"y":1.3,"seg":"c"},{"x":958,"y":1.65,"seg":"c"},{"x":959,"y":1.1,"seg":"c"},{"x":960,"y":2.49,"seg":"c"},{"x":961,"y":2.37,"seg":"c"},{"x":962,"y":1.3,"seg":"c"},{"x":963,"y":1.5,"seg":"c"},{"x":964,"y":1.15,"seg":"c"},{"x":965,"y":1.4,"seg":"c"},{"x":966,"y":1.25,"seg":"c"},{"x":967,"y":1.45,"seg":"c"},{"x":968,"y":1.2,"seg":"c"},{"x":969,"y":1.55,"seg":"c"},{"x":970,"y":1.3,"seg":"c"},{"x":971,"y":1.05,"seg":"c"},{"x":972,"y":1.4,"seg":"c"},{"x":973,"y":2.57,"seg":"c"},{"x":974,"y":1.6,"seg":"c"},{"x":975,"y":1.15,"seg":"c"},{"x":976,"y":1.65,"seg":"c"},{"x":977,"y":1.72,"seg":"c"},{"x":978,"y":1.25,"seg":"c"},{"x":979,"y":1.5,"seg":"c"},{"x":980,"y":1.1,"seg":"c"},{"x":981,"y":1.4,"seg":"c"},{"x":982,"y":1.7,"seg":"c"},{"x":983,"y":1.64,"seg":"c"},{"x":984,"y":2.42,"seg":"c"},{"x":985,"y":2.09,"seg":"c"},{"x":986,"y":1.15,"seg":"c"},{"x":987,"y":1.4,"seg":"c"},{"x":988,"y":1.25,"seg":"c"},{"x":989,"y":1.61,"seg":"c"},{"x":990,"y":1.6,"seg":"c"},{"x":991,"y":1.2,"seg":"c"},{"x":992,"y":1.05,"seg":"c"},{"x":993,"y":1.4,"seg":"c"},{"x":994,"y":1.83,"seg":"c"},{"x":995,"y":1.35,"seg":"c"},{"x":996,"y":3.42,"seg":"c"},{"x":997,"y":2.25,"seg":"c"},{"x":998,"y":1.3,"seg":"c"},{"x":999,"y":1.15,"seg":"c"},{"x":1000,"y":1.4,"seg":"c"},{"x":1001,"y":1.2,"seg":"c"},{"x":1002,"y":1.05,"seg":"c"},{"x":1003,"y":1.3,"seg":"c"},{"x":1004,"y":1.7,"seg":"c"},{"x":1005,"y":1.61,"seg":"c"},{"x":1006,"y":1.64,"seg":"c"},{"x":1007,"y":1.91,"seg":"c"},{"x":1008,"y":1.05,"seg":"c"},{"x":1009,"y":2.3,"seg":"c"},{"x":1010,"y":1.98,"seg":"c"},{"x":1011,"y":1.61,"seg":"c"},{"x":1012,"y":1.94,"seg":"c"},{"x":1013,"y":1.61,"seg":"c"},{"x":1014,"y":1.1,"seg":"c"},{"x":1015,"y":1.25,"seg":"c"},{"x":1016,"y":1.05,"seg":"c"},{"x":1017,"y":1.3,"seg":"c"},{"x":1018,"y":1.88,"seg":"c"},{"x":1019,"y":1.65,"seg":"c"},{"x":1020,"y":1.1,"seg":"c"},{"x":1021,"y":1.4,"seg":"c"},{"x":1022,"y":1.25,"seg":"c"},{"x":1023,"y":1.3,"seg":"c"},{"x":1024,"y":1.45,"seg":"c"},{"x":1025,"y":1.15,"seg":"c"},{"x":1026,"y":1.35,"seg":"c"},{"x":1027,"y":1.1,"seg":"c"},{"x":1028,"y":1.3,"seg":"c"},{"x":1029,"y":1.44,"seg":"c"},{"x":1030,"y":1.1,"seg":"c"},{"x":1031,"y":1.25,"seg":"c"},{"x":1032,"y":1.05,"seg":"c"},{"x":1033,"y":1.2,"seg":"c"},{"x":1034,"y":1.25,"seg":"c"},{"x":1035,"y":1.1,"seg":"c"},{"x":1036,"y":1.05,"seg":"c"},{"x":1037,"y":1.37,"seg":"c"},{"x":1038,"y":1.0,"seg":"c"},{"x":1039,"y":0.95,"seg":"c"},{"x":1040,"y":1.05,"seg":"c"},{"x":1041,"y":0.98,"seg":"c"},{"x":1042,"y":1.08,"seg":"c"},{"x":1043,"y":1.0,"seg":"c"},{"x":1044,"y":1.06,"seg":"c"},{"x":1045,"y":1.35,"seg":"c"},{"x":1046,"y":1.05,"seg":"c"},{"x":1047,"y":1.0,"seg":"c"},{"x":1048,"y":1.08,"seg":"c"},{"x":1049,"y":0.98,"seg":"c"},{"x":1050,"y":1.03,"seg":"c"},{"x":1051,"y":1.0,"seg":"c"},{"x":1052,"y":1.14,"seg":"c"},{"x":1053,"y":1.0,"seg":"c"},{"x":1054,"y":1.02,"seg":"c"},{"x":1055,"y":1.2,"seg":"c"},{"x":1056,"y":1.58,"seg":"c"},{"x":1057,"y":1.0,"seg":"c"},{"x":1058,"y":0.96,"seg":"c"},{"x":1059,"y":0.95,"seg":"c"},{"x":1060,"y":0.98,"seg":"c"},{"x":1061,"y":0.94,"seg":"c"},{"x":1062,"y":1.0,"seg":"c"},{"x":1063,"y":0.96,"seg":"c"},{"x":1064,"y":1.03,"seg":"c"},{"x":1065,"y":0.95,"seg":"c"},{"x":1066,"y":0.98,"seg":"c"},{"x":1067,"y":1.02,"seg":"c"},{"x":1068,"y":0.95,"seg":"c"},{"x":1069,"y":0.94,"seg":"c"},{"x":1070,"y":0.94,"seg":"c"},{"x":1071,"y":1.0,"seg":"c"},{"x":1072,"y":1.58,"seg":"c"},{"x":1073,"y":1.5,"seg":"c"},{"x":1074,"y":1.83,"seg":"c"},{"x":1075,"y":1.65,"seg":"c"},{"x":1076,"y":0.95,"seg":"c"},{"x":1077,"y":1.09,"seg":"c"},{"x":1078,"y":0.98,"seg":"c"},{"x":1079,"y":0.95,"seg":"c"},{"x":1080,"y":1.02,"seg":"c"},{"x":1081,"y":0.98,"seg":"c"},{"x":1082,"y":0.95,"seg":"c"},{"x":1083,"y":1.0,"seg":"c"},{"x":1084,"y":0.95,"seg":"c"},{"x":1085,"y":0.96,"seg":"c"},{"x":1086,"y":1.3,"seg":"c"},{"x":1087,"y":1.76,"seg":"c"},{"x":1088,"y":1.35,"seg":"c"},{"x":1089,"y":1.4,"seg":"c"},{"x":1090,"y":1.98,"seg":"c"},{"x":1091,"y":1.67,"seg":"c"},{"x":1092,"y":1.0,"seg":"c"},{"x":1093,"y":1.05,"seg":"c"},{"x":1094,"y":0.96,"seg":"c"},{"x":1095,"y":1.06,"seg":"c"},{"x":1096,"y":0.98,"seg":"c"},{"x":1097,"y":1.03,"seg":"c"},{"x":1098,"y":0.95,"seg":"c"},{"x":1099,"y":1.02,"seg":"c"},{"x":1100,"y":0.97,"seg":"c"},{"x":1101,"y":1.04,"seg":"c"},{"x":1102,"y":0.96,"seg":"c"},{"x":1103,"y":1.03,"seg":"c"},{"x":1104,"y":0.98,"seg":"c"},{"x":1105,"y":1.05,"seg":"c"},{"x":1106,"y":0.97,"seg":"c"},{"x":1107,"y":1.02,"seg":"c"},{"x":1108,"y":0.96,"seg":"c"},{"x":1109,"y":1.08,"seg":"c"},{"x":1110,"y":0.98,"seg":"c"},{"x":1111,"y":0.96,"seg":"c"},{"x":1112,"y":1.67,"seg":"c"},{"x":1113,"y":1.72,"seg":"c"},{"x":1114,"y":1.77,"seg":"c"},{"x":1115,"y":1.77,"seg":"c"},{"x":1116,"y":1.4,"seg":"c"},{"x":1117,"y":1.05,"seg":"c"},{"x":1118,"y":0.96,"seg":"c"},{"x":1119,"y":1.03,"seg":"c"},{"x":1120,"y":0.98,"seg":"c"},{"x":1121,"y":1.04,"seg":"c"},{"x":1122,"y":0.96,"seg":"c"},{"x":1123,"y":1.02,"seg":"c"},{"x":1124,"y":0.97,"seg":"c"},{"x":1125,"y":1.04,"seg":"c"},{"x":1126,"y":0.98,"seg":"c"},{"x":1127,"y":0.96,"seg":"c"},{"x":1128,"y":1.04,"seg":"c"},{"x":1129,"y":1.0,"seg":"c"},{"x":1130,"y":1.07,"seg":"c"},{"x":1131,"y":0.97,"seg":"c"},{"x":1132,"y":1.03,"seg":"c"},{"x":1133,"y":1.08,"seg":"c"},{"x":1134,"y":0.99,"seg":"c"},{"x":1135,"y":1.07,"seg":"c"},{"x":1136,"y":1.02,"seg":"c"},{"x":1137,"y":0.96,"seg":"c"},{"x":1138,"y":1.05,"seg":"c"},{"x":1139,"y":1.06,"seg":"c"},{"x":1140,"y":0.98,"seg":"c"},{"x":1141,"y":1.03,"seg":"c"},{"x":1142,"y":1.0,"seg":"c"},{"x":1143,"y":1.05,"seg":"c"},{"x":1144,"y":0.97,"seg":"c"},{"x":1145,"y":1.03,"seg":"c"},{"x":1146,"y":1.0,"seg":"c"},{"x":1147,"y":0.97,"seg":"c"},{"x":1148,"y":1.05,"seg":"c"},{"x":1149,"y":1.0,"seg":"c"},{"x":1150,"y":1.04,"seg":"c"},{"x":1151,"y":1.08,"seg":"c"},{"x":1152,"y":1.02,"seg":"c"},{"x":1153,"y":1.12,"seg":"c"},{"x":1154,"y":0.98,"seg":"c"},{"x":1155,"y":1.02,"seg":"c"},{"x":1156,"y":0.97,"seg":"c"},{"x":1157,"y":1.03,"seg":"c"},{"x":1158,"y":1.0,"seg":"c"},{"x":1159,"y":0.97,"seg":"c"},{"x":1160,"y":1.07,"seg":"c"},{"x":1161,"y":0.97,"seg":"c"},{"x":1162,"y":0.97,"seg":"c"},{"x":1163,"y":0.97,"seg":"c"},{"x":1164,"y":1.57,"seg":"c"},{"x":1165,"y":1.35,"seg":"c"},{"x":1166,"y":1.82,"seg":"c"},{"x":1167,"y":1.4,"seg":"c"},{"x":1168,"y":1.73,"seg":"c"},{"x":1169,"y":1.45,"seg":"c"},{"x":1170,"y":1.67,"seg":"c"},{"x":1171,"y":1.0,"seg":"c"},{"x":1172,"y":0.95,"seg":"c"},{"x":1173,"y":1.05,"seg":"c"},{"x":1174,"y":1.02,"seg":"c"},{"x":1175,"y":0.95,"seg":"c"},{"x":1176,"y":0.97,"seg":"c"},{"x":1177,"y":1.0,"seg":"c"},{"x":1178,"y":1.1,"seg":"c"},{"x":1179,"y":1.28,"seg":"c"},{"x":1180,"y":1.15,"seg":"c"},{"x":1181,"y":1.0,"seg":"c"},{"x":1182,"y":1.03,"seg":"c"},{"x":1183,"y":0.97,"seg":"c"},{"x":1184,"y":1.02,"seg":"c"},{"x":1185,"y":1.05,"seg":"c"},{"x":1186,"y":0.98,"seg":"c"},{"x":1187,"y":0.96,"seg":"c"},{"x":1188,"y":1.03,"seg":"c"},{"x":1189,"y":1.0,"seg":"c"},{"x":1190,"y":1.02,"seg":"c"},{"x":1191,"y":0.97,"seg":"c"},{"x":1192,"y":1.05,"seg":"c"},{"x":1193,"y":1.0,"seg":"c"},{"x":1194,"y":1.02,"seg":"c"},{"x":1195,"y":0.97,"seg":"c"},{"x":1196,"y":1.03,"seg":"c"},{"x":1197,"y":0.98,"seg":"c"},{"x":1198,"y":1.02,"seg":"c"},{"x":1199,"y":0.96,"seg":"c"},{"x":1200,"y":1.05,"seg":"c"},{"x":1201,"y":1.0,"seg":"c"},{"x":1202,"y":1.03,"seg":"c"},{"x":1203,"y":0.98,"seg":"c"},{"x":1204,"y":1.04,"seg":"c"},{"x":1205,"y":1.0,"seg":"c"},{"x":1206,"y":0.97,"seg":"c"},{"x":1207,"y":1.05,"seg":"c"},{"x":1208,"y":0.98,"seg":"c"},{"x":1209,"y":0.97,"seg":"c"},{"x":1210,"y":1.0,"seg":"c"},{"x":1211,"y":1.02,"seg":"c"},{"x":1212,"y":1.08,"seg":"c"},{"x":1213,"y":1.1,"seg":"c"},{"x":1214,"y":1.13,"seg":"c"},{"x":1215,"y":1.2,"seg":"c"},{"x":1216,"y":1.12,"seg":"c"},{"x":1217,"y":1.3,"seg":"c"},{"x":1218,"y":1.68,"seg":"c"},{"x":1219,"y":1.45,"seg":"c"},{"x":1220,"y":1.35,"seg":"c"},{"x":1221,"y":1.41,"seg":"c"},{"x":1222,"y":1.05,"seg":"c"},{"x":1223,"y":1.38,"seg":"c"},{"x":1224,"y":1.0,"seg":"c"},{"x":1225,"y":0.99,"seg":"c"},{"x":1226,"y":1.0,"seg":"c"},{"x":1227,"y":1.05,"seg":"c"},{"x":1228,"y":1.21,"seg":"c"},{"x":1229,"y":0.95,"seg":"c"},{"x":1230,"y":1.0,"seg":"c"},{"x":1231,"y":1.67,"seg":"c"},{"x":1232,"y":1.55,"seg":"c"},{"x":1233,"y":1.76,"seg":"c"},{"x":1234,"y":2.09,"seg":"c"},{"x":1235,"y":1.1,"seg":"c"},{"x":1236,"y":0.96,"seg":"c"},{"x":1237,"y":0.98,"seg":"c"},{"x":1238,"y":0.97,"seg":"c"},{"x":1239,"y":0.95,"seg":"c"}
    ],
    "red2": [
{"x":11.4,"y":4.68},{"x":126.9,"y":4.68},{"x":135.3,"y":4.77},{"x":143.7,"y":4.85},{"x":152.1,"y":5.05},{"x":162.6,"y":5.2},{"x":171,"y":5.41},{"x":181.5,"y":5.56},{"x":189.9,"y":5.64},{"x":198.3,"y":5.64},{"x":206.7,"y":5.58},{"x":215.1,"y":5.48},{"x":225.6,"y":5.33},{"x":236.1,"y":5.18},{"x":248.7,"y":5.0},{"x":261.3,"y":4.88},{"x":276,"y":4.79},{"x":295,"y":4.73},{"x":311.7,"y":4.7},{"x":332.7,"y":4.68},{"x":433.5,"y":4.68},{"x":439.8,"y":4.77},{"x":446.1,"y":4.9},{"x":452.4,"y":5.13},{"x":460.8,"y":5.35},{"x":469.2,"y":5.5},{"x":479.7,"y":5.58},{"x":488.1,"y":5.54},{"x":498.6,"y":5.45},{"x":509.1,"y":5.33},{"x":525.9,"y":5.15},{"x":540.6,"y":5.05},{"x":555.3,"y":4.94},{"x":572.1,"y":4.87},{"x":588.9,"y":4.81},{"x":605.7,"y":4.77},{"x":620.4,"y":4.75},{"x":639.3,"y":4.72},{"x":659.5,"y":4.7},{"x":698,"y":4.68},{"x":825,"y":4.68}
    ],
    "stars2": [
{"x":996.3,"y":3.42},{"x":887,"y":3.12},{"x":887,"y":2.85},{"x":874.3,"y":2.79},{"x":912.2,"y":2.72},{"x":888.4,"y":2.51},{"x":898.2,"y":2.49},{"x":888.4,"y":2.4},{"x":959.9,"y":2.49},{"x":972.7,"y":2.57},{"x":961.3,"y":2.37},{"x":983.7,"y":2.42},{"x":996.3,"y":2.42},{"x":996.3,"y":2.25},{"x":1009.1,"y":2.3},{"x":923.4,"y":2.27},{"x":923.4,"y":2.09},{"x":936,"y":2.13},{"x":984.9,"y":2.09},{"x":936,"y":1.97},{"x":1009.1,"y":1.98},{"x":1012,"y":1.94},{"x":1007.7,"y":1.91},{"x":1018.7,"y":1.88},{"x":936,"y":1.86},{"x":926.3,"y":1.93},{"x":931.2,"y":1.86},{"x":918.5,"y":1.88},{"x":911.4,"y":1.89},{"x":910.8,"y":1.81},{"x":912.8,"y":1.73},{"x":959.9,"y":1.88},{"x":993.5,"y":1.83},{"x":955,"y":1.78},{"x":855.2,"y":1.79},{"x":850.5,"y":1.7},{"x":953.6,"y":1.7},{"x":934.4,"y":1.69},{"x":942.4,"y":1.69},{"x":948.7,"y":1.65},{"x":958.4,"y":1.65},{"x":972.7,"y":1.7},{"x":977.4,"y":1.72},{"x":982.1,"y":1.7},{"x":976,"y":1.65},{"x":982.3,"y":1.64},{"x":974.1,"y":1.6},{"x":989,"y":1.61},{"x":990,"y":1.6},{"x":1004.3,"y":1.7},{"x":1006.3,"y":1.64},{"x":1004.3,"y":1.61},{"x":1011,"y":1.61},{"x":1013.4,"y":1.61},{"x":1018.7,"y":1.65},{"x":907.5,"y":1.63},{"x":900.4,"y":1.57},{"x":898.8,"y":1.53},{"x":882.1,"y":1.56},{"x":950.7,"y":1.54},{"x":969.2,"y":1.55},{"x":928.3,"y":1.48},{"x":932,"y":1.46},{"x":905.5,"y":1.47},{"x":902.4,"y":1.42},{"x":894.3,"y":1.42},{"x":891.9,"y":1.42},{"x":855.2,"y":1.52},{"x":847.5,"y":1.49},{"x":850.5,"y":1.47},{"x":859.7,"y":1.47},{"x":848.5,"y":1.44},{"x":852.6,"y":1.44},{"x":856.6,"y":1.44},{"x":849.5,"y":1.4},{"x":853.6,"y":1.38},{"x":856.6,"y":1.37},{"x":864.8,"y":1.41},{"x":867.8,"y":1.42},{"x":870.9,"y":1.36},{"x":875,"y":1.37},{"x":885.1,"y":1.35},{"x":872.9,"y":1.32},{"x":875,"y":1.29},{"x":880.5,"y":1.28},{"x":856.6,"y":1.28},{"x":872.3,"y":1.25},{"x":848.9,"y":1.18},{"x":1073.9,"y":1.83},{"x":1090,"y":1.99},{"x":1086.7,"y":1.76},{"x":1234.4,"y":2.09}
    ],
    "walls2": [
{"x":11.4,"y":4.68,"y2":0.91},{"x":410.8,"y":4.68,"y2":0.91},{"x":420.5,"y":4.68,"y2":0.91},{"x":820.3,"y":4.68,"y2":0.91},{"x":830,"y":4.68,"y2":0.91},{"x":1229.8,"y":4.68,"y2":0.91}
    ],
    "tops2": [{"x":11.4,"x2":410.8,"y":4.68},{"x":420.5,"x2":820.3,"y":4.68},{"x":830,"x2":1229.8,"y":4.68}],
    "hits2": [{"x":207.6,"x2":249.1,"y":4.508,"y2":4.122},{"x":617,"x2":658.5,"y":4.508,"y2":4.122}],
    "labels2": [{"x":212,"y":4.285,"label":"r. 1"},{"x":622,"y":4.285,"label":"r. 2"},{"x":1031,"y":4.285,"label":"r. 3"}]
  },
  "vconcat": [
    {
      "title": {"text": "CI-method result on Sc. #1 with lognormal/KS", "anchor": "start", "frame": "group", "dx": 782, "offset": 2, "fontSize": 48.5, "fontWeight": "normal", "color": "black"},
      "width": 2104.5,
      "height": 793,
      "encoding": {
        "x": {"field": "x", "type": "quantitative", "scale": {"domain": [0, 920], "range": [7, 2104.5], "nice": false, "zero": false}, "axis": {"values": [0, 200, 400, 600, 800], "tickSize": -23, "domain": false}},
        "y": {"field": "y", "type": "quantitative", "scale": {"domain": [0, 7], "nice": false, "zero": false}, "axis": {"values": [0, 1, 2, 3, 4, 5, 6, 7], "tickSize": -21, "offset": -7}}
      },
      "layer": [
        {"data": {"name": "base1"}, "mark": {"type": "rule", "color": "#444444", "strokeWidth": 1.2}, "encoding": {"x2": {"field": "x2"}}},
        {"data": {"name": "blue"}, "mark": {"type": "line", "color": "#1a1aff", "strokeWidth": 1}},
        {"data": {"name": "hits1"}, "mark": {"type": "rect", "color": "#bfff00"}, "encoding": {"x2": {"field": "x2"}, "y2": {"field": "y2"}}},
        {"data": {"name": "walls1"}, "mark": {"type": "rule", "color": "#333333", "strokeWidth": 1, "strokeDash": [3, 2]}, "encoding": {"y2": {"field": "y2"}}},
        {"data": {"name": "tops1"}, "mark": {"type": "rule", "color": "#333333", "strokeWidth": 1, "strokeDash": [3, 2]}, "encoding": {"x2": {"field": "x2"}}},
        {"data": {"name": "red1"}, "mark": {"type": "line", "color": "#ff0000", "strokeWidth": 9, "strokeDash": [40, 20]}, "encoding": {"detail": {"field": "seg"}}},
        {"data": {"name": "stars1"}, "mark": {"type": "point", "shape": "M-1,0L1,0M0,-1L0,1M-0.7,-0.7L0.7,0.7M-0.7,0.7L0.7,-0.7", "size": 380, "filled": false, "stroke": "#111111", "strokeWidth": 1, "opacity": 1}},
        {"data": {"name": "labels1"}, "mark": {"type": "text", "align": "left", "baseline": "middle", "fontSize": 36, "color": "black"}, "encoding": {"text": {"field": "label"}}}
      ]
    },
    {
      "title": {"text": "CI-method result on Sc. #3 with lognormal/KS", "anchor": "start", "frame": "group", "dx": 739, "offset": 9.25, "fontSize": 48.5, "fontWeight": "normal", "color": "black"},
      "width": 2105,
      "height": 886,
      "encoding": {
        "x": {"field": "x", "type": "quantitative", "scale": {"domain": [0, 1286], "nice": false, "zero": false}, "axis": {"values": [0, 200, 400, 600, 800, 1000, 1200], "tickSize": -23}},
        "y": {"field": "y", "type": "quantitative", "scale": {"domain": [0, 6], "nice": false, "zero": false}, "axis": {"values": [0, 1, 2, 3, 4, 5, 6], "tickSize": -21}}
      },
      "layer": [
        {"data": {"name": "green"}, "mark": {"type": "line", "color": "#00ff00", "strokeWidth": 1}, "encoding": {"detail": {"field": "seg"}}},
        {"data": {"name": "hits2"}, "mark": {"type": "rect", "color": "#bfff00"}, "encoding": {"x2": {"field": "x2"}, "y2": {"field": "y2"}}},
        {"data": {"name": "walls2"}, "mark": {"type": "rule", "color": "#333333", "strokeWidth": 1, "strokeDash": [3, 2]}, "encoding": {"y2": {"field": "y2"}}},
        {"data": {"name": "tops2"}, "mark": {"type": "rule", "color": "#333333", "strokeWidth": 1, "strokeDash": [3, 2]}, "encoding": {"x2": {"field": "x2"}}},
        {"data": {"name": "red2"}, "mark": {"type": "line", "color": "#ff0000", "strokeWidth": 10, "strokeDash": [41, 21]}},
        {"data": {"name": "stars2"}, "mark": {"type": "point", "shape": "M-1,0L1,0M0,-1L0,1M-0.7,-0.7L0.7,0.7M-0.7,0.7L0.7,-0.7", "size": 430, "filled": false, "stroke": "#111111", "strokeWidth": 1, "opacity": 1}},
        {"data": {"name": "labels2"}, "mark": {"type": "text", "align": "left", "baseline": "middle", "fontSize": 40, "color": "black"}, "encoding": {"text": {"field": "label"}}}
      ]
    }
  ],
  "spacing": 52.4,
  "align": "none",
  "bounds": "full"
}
